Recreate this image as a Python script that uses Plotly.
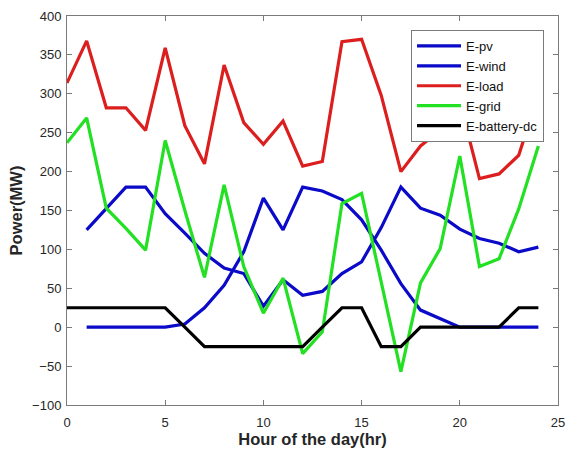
import plotly.graph_objects as go

hours_full = list(range(0, 25))
hours = list(range(1, 25))

e_pv = [0, 0, 0, 0, 0, 4, 25, 54, 97, 166, 125, 180, 175, 164, 138, 99, 56, 22, 11, 0, 0, 0, 0, 0]
e_wind = [125, 153, 180, 180, 146, 121, 95, 76, 69, 27, 61, 41, 46, 69, 84, 128, 180, 153, 144, 126, 114, 108, 97, 103]
e_load = [314, 368, 282, 282, 253, 359, 259, 210, 337, 263, 235, 265, 207, 213, 367, 370, 298, 200, 233, 253, 290, 191, 197, 221, 300]
e_grid = [237, 269, 153, 127, 99, 240, 150, 64, 183, 78, 18, 63, -34, -6, 159, 172, 58, -57, 57, 101, 220, 78, 88, 152, 233]
e_batt = [25, 25, 25, 25, 25, 25, 0, -25, -25, -25, -25, -25, -25, 0, 25, 25, -25, -25, 0, 0, 0, 0, 0, 25, 25]

series = [
    ("E-pv", hours, e_pv, "#0a0ac8"),
    ("E-wind", hours, e_wind, "#0a0ac8"),
    ("E-load", hours_full, e_load, "#dc1e1e"),
    ("E-grid", hours_full, e_grid, "#22e022"),
    ("E-battery-dc", hours_full, e_batt, "#000000"),
]

fig = go.Figure()
for name, x, y, c in series:
    fig.add_trace(go.Scatter(x=x, y=y, mode="lines", name=name,
                             line=dict(color=c, width=3.2)))

FONT = "Liberation Sans, Arial"
axis_common = dict(showgrid=False, zeroline=False, showline=True, linecolor="#7a7a7a",
                   linewidth=1, mirror="ticks", ticks="inside", ticklen=5,
                   tickcolor="#7a7a7a", automargin=False,
                   tickfont=dict(family=FONT, size=13, color="#262626"))

fig.update_layout(
    width=567, height=454,
    margin=dict(l=67, r=9, t=16, b=49),
    paper_bgcolor="white", plot_bgcolor="white",
    xaxis=dict(range=[0, 25], tickvals=[0, 5, 10, 15, 20, 25], ticklabelstandoff=5,
               title=dict(text="<b>Hour of the day(hr)</b>", standoff=4,
                          font=dict(family=FONT, size=16.5, color="#262626")),
               **axis_common),
    yaxis=dict(range=[-100, 400], tickvals=list(range(-100, 401, 50)), ticklabelstandoff=2,
               title=dict(text="<b>Power(MW)</b>", standoff=5,
                          font=dict(family=FONT, size=16.5, color="#262626")),
               **axis_common),
    legend=dict(x=0.9715, y=0.964, xanchor="right", yanchor="top",
                bordercolor="#7a7a7a", borderwidth=1, bgcolor="white",
                font=dict(family=FONT, size=13, color="#111"),
                tracegroupgap=0, itemwidth=44),
    showlegend=True,
)

fig.write_html("out.html", config={"displayModeBar": False},
               post_script="document.body.style.margin='0px';")
